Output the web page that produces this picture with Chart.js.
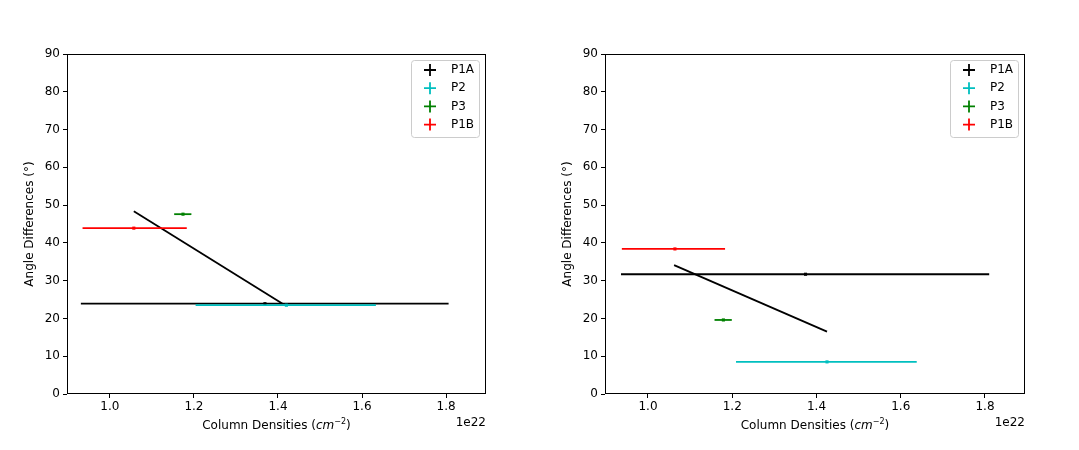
<!DOCTYPE html>
<html>
<head>
<meta charset="utf-8">
<script src="https://cdn.jsdelivr.net/npm/chart.js@4.4.0/dist/chart.umd.min.js"></script>
<style>
body{margin:0;background:#fff;width:1079px;height:450px;position:relative;overflow:hidden}
.panel{position:absolute;top:0;height:450px}
</style>
</head>
<body>
<div class="panel" style="left:0;width:540px"><canvas id="left"></canvas></div>
<div class="panel" style="left:538px;width:541px"><canvas id="right"></canvas></div>
<script>
// x values are in units of 1e22 cm^-2
var xTicks = [1.0, 1.2, 1.4, 1.6, 1.8]
var seriesNames = ['P1A', 'P2', 'P3', 'P1B']
var seriesColors = ['#000000', '#00bfbf', '#008000', '#ff0000']

// left panel
var leftX = [1.369, 1.420, 1.174, 1.057]
var leftY = [23.9, 23.5, 47.6, 43.9]
var leftXLo = [0.931, 1.204, 1.153, 0.935]
var leftXHi = [1.806, 1.633, 1.194, 1.183]
var leftLineX = [1.057, 1.411]
var leftLineY = [48.4, 23.9]

// right panel
var rightX = [1.374, 1.425, 1.179, 1.064]
var rightY = [31.7, 8.5, 19.6, 38.4]
var rightXLo = [0.936, 1.209, 1.158, 0.938]
var rightXHi = [1.810, 1.638, 1.199, 1.183]
var rightLineX = [1.062, 1.425]
var rightLineY = [34.1, 16.5]

var FONT = '"DejaVu Sans", sans-serif'
var FS = 12

function makeDatasets(xs, ys, lo, hi, lx, ly){
    var ds = []
    for(var i=0;i<xs.length;i++){
        // error bar
        ds.push({
            data: [{x: lo[i], y: ys[i]}, {x: hi[i], y: ys[i]}],
            showLine: true, borderColor: seriesColors[i], borderWidth: 1.8,
            pointRadius: 0, order: 20 - i*2
        })
        // centre marker
        ds.push({
            data: [{x: xs[i], y: ys[i]}],
            showLine: false, pointRadius: 2.2, pointStyle: 'rect',
            backgroundColor: seriesColors[i], borderWidth: 0, order: 19 - i*2
        })
        if(i==0){
            var pts = []
            for(var j=0;j<lx.length;j++){ pts.push({x: lx[j], y: ly[j]}) }
            ds.push({
                data: pts, showLine: true, borderColor: '#000', borderWidth: 1.8,
                pointRadius: 0, order: 18.5
            })
        }
    }
    return ds
}

var extras = {
    id: 'extras',
    afterDraw: function(chart){
        var ctx = chart.ctx, a = chart.chartArea
        ctx.save()
        // frame
        ctx.strokeStyle = '#000'
        ctx.lineWidth = 1
        ctx.strokeRect(a.left + 0.5, a.top + 0.5, a.right - a.left - 1, a.bottom - a.top - 1)

        ctx.fillStyle = '#000'
        // x title with italic cm and superscript
        var parts = [
            ['Column Densities (', FS + 'px ' + FONT, 0],
            ['cm', 'italic ' + FS + 'px ' + FONT, 0],
            ['\u22122', Math.round(FS*0.7) + 'px ' + FONT, -4],
            [')', FS + 'px ' + FONT, 0]
        ]
        var total = 0
        parts.forEach(function(p){ ctx.font = p[1]; total += ctx.measureText(p[0]).width })
        var x = (a.left + a.right)/2 - total/2
        ctx.textBaseline = 'middle'
        ctx.textAlign = 'left'
        parts.forEach(function(p){
            ctx.font = p[1]
            ctx.fillText(p[0], x, 426 + p[2])
            x += ctx.measureText(p[0]).width
        })

        // offset text
        ctx.font = FS + 'px ' + FONT
        ctx.textAlign = 'right'
        ctx.fillText('1e22', a.right, 423)

        // y title
        ctx.save()
        ctx.translate(30, (a.top + a.bottom)/2)
        ctx.rotate(-Math.PI/2)
        ctx.textAlign = 'center'
        ctx.fillText('Angle Differences (\u00b0)', 0, 0)
        ctx.restore()

        // legend
        var bw = 68, bh = 77
        var bx = a.right - 7 - bw, by = a.top + 6
        ctx.beginPath()
        ctx.roundRect(bx + 0.5, by + 0.5, bw, bh, 3)
        ctx.fillStyle = 'rgba(255,255,255,0.8)'
        ctx.fill()
        ctx.strokeStyle = '#cccccc'
        ctx.lineWidth = 1
        ctx.stroke()
        for(var i=0;i<seriesNames.length;i++){
            var cy = by + 10 + i*18.2
            var cx = bx + 19
            ctx.strokeStyle = seriesColors[i]
            ctx.lineWidth = 1.8
            ctx.beginPath()
            ctx.moveTo(cx - 6, cy); ctx.lineTo(cx + 6, cy)
            ctx.moveTo(cx, cy - 6); ctx.lineTo(cx, cy + 6)
            ctx.stroke()
            ctx.fillStyle = '#000'
            ctx.textAlign = 'left'
            ctx.font = FS + 'px ' + FONT
            ctx.fillText(seriesNames[i], bx + 40, cy)
        }
        ctx.restore()
    }
}

function makeChart(id, ds){
    return new Chart(id, {
        type: 'scatter',
        data: {datasets: ds},
        plugins: [extras],
        options: {
            responsive: true,
            maintainAspectRatio: false,
            animation: false,
            layout: {padding: {left: 0, top: 54, right: 54, bottom: 0}},
            plugins: {legend: {display: false}, tooltip: {enabled: false}},
            scales: {
                x: {
                    type: 'linear', min: 0.898, max: 1.895,
                    afterBuildTicks: function(s){ s.ticks = xTicks.map(function(v){ return {value: v} }) },
                    afterFit: function(s){ s.height = 56 },
                    ticks: {
                        color: '#000', font: {family: FONT, size: FS}, padding: 2,
                        maxRotation: 0, callback: function(v){ return v.toFixed(1) }
                    },
                    grid: {drawOnChartArea: false, tickLength: 4, color: '#000'},
                    border: {display: false}
                },
                y: {
                    min: 0, max: 90,
                    afterFit: function(s){ s.width = 67 },
                    ticks: {stepSize: 10, color: '#000', font: {family: FONT, size: FS}, padding: 3},
                    grid: {drawOnChartArea: false, tickLength: 4, color: '#000'},
                    border: {display: false}
                }
            }
        }
    })
}

makeChart('left', makeDatasets(leftX, leftY, leftXLo, leftXHi, leftLineX, leftLineY))
makeChart('right', makeDatasets(rightX, rightY, rightXLo, rightXHi, rightLineX, rightLineY))
</script>
</body>
</html>
